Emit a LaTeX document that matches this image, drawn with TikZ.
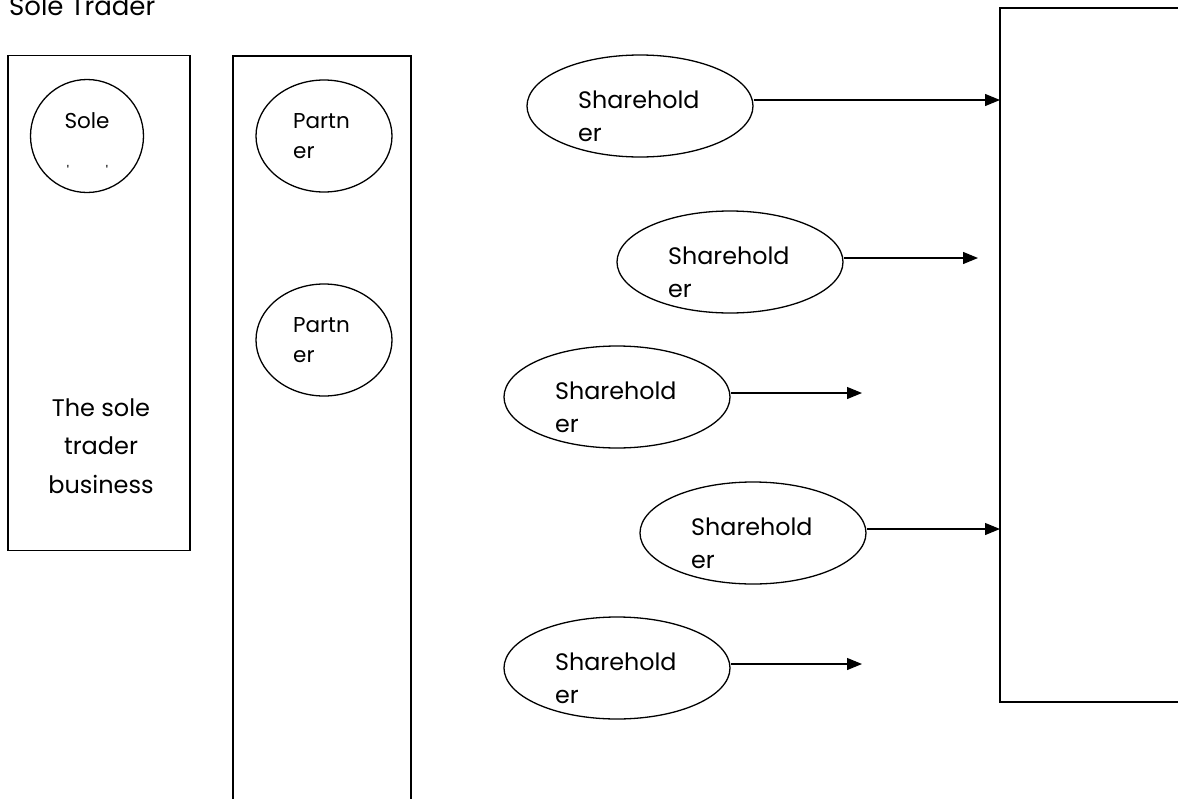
\documentclass[tikz,border=0pt]{standalone}
\usepackage{fontspec}
\setmainfont{Poppins}
\usetikzlibrary{shapes.geometric,arrows.meta,calc}
\tikzset{
  frame/.style={draw, line width=1.6pt},
  oval/.style={draw, ellipse, line width=1.3pt, inner sep=0pt},
  lbl/.style={anchor=base west, inner sep=0pt, font=\fontsize{23.8}{33}\selectfont},
  smalllbl/.style={anchor=base west, inner sep=0pt, font=\fontsize{21.5}{30}\selectfont},
  conn/.style={line width=1.2pt, -{Triangle[length=15pt,width=12pt]}}
}
\begin{document}
\begin{tikzpicture}[x=1pt,y=-1pt]
\useasboundingbox (0,0) rectangle (1178,798);
\clip (0,0) rectangle (1178,798);
% title
\node[lbl, font=\fontsize{26}{33}\selectfont] (title) at (9,15) {Sole Trader};
% sole trader box
\node[frame, minimum width=182pt, minimum height=495pt, inner sep=0pt] (solebox) at (99,303) {};
\node[oval, minimum width=113pt, minimum height=113pt] (solec) at (87,136) {};
\node[smalllbl, anchor=base] (soletxt) at (87,128) {Sole};
\node[inner sep=0pt, font=\fontsize{14}{14}\selectfont, anchor=north] (soledot1) at (68,165) {\textquotesingle};
\node[inner sep=0pt, font=\fontsize{14}{14}\selectfont, anchor=north] (soledot2) at (107,165) {\textquotesingle};
\node[align=center, inner sep=0pt, font=\fontsize{24}{38.5}\selectfont, anchor=base] (soledesc) at (101,493) {The sole\\trader\\business};
% partnership box
\draw[frame] (233,820) |- (411,56) -- (411,820);
\node[oval, minimum width=136pt, minimum height=112pt] (p1) at (324,136) {};
\node[smalllbl] (p1t) at (293,128) {Partn};
\node[smalllbl] (p1u) at (293,158) {er};
\node[oval, minimum width=136pt, minimum height=112pt] (p2) at (324,340) {};
\node[smalllbl] (p2t) at (293,332) {Partn};
\node[smalllbl] (p2u) at (293,362) {er};
% company box
\draw[frame] (1190,8) -| (1000,702) -- (1190,702);
\coordinate (c1) at (1000,100);
\coordinate (c2) at (978,258);
\coordinate (c3) at (862,393);
\coordinate (c4) at (1000,529);
\coordinate (c5) at (862,664);
% shareholders
\foreach \n/\cx/\cy in {1/640/106, 2/730/262, 3/617/397, 4/753/533, 5/617/668}{
  \node[oval, minimum width=226pt, minimum height=102pt] (s\n) at (\cx,\cy) {};
  \node[lbl] (s\n t) at ($(\cx,\cy)+(-62,2)$) {Sharehold};
  \node[lbl] (s\n u) at ($(\cx,\cy)+(-62,35)$) {er};
}
\draw[conn] (s1.east |- c1) -- (c1);
\draw[conn] (s2.east |- c2) -- (c2);
\draw[conn] (s3.east |- c3) -- (c3);
\draw[conn] (s4.east |- c4) -- (c4);
\draw[conn] (s5.east |- c5) -- (c5);
\end{tikzpicture}
\end{document}
